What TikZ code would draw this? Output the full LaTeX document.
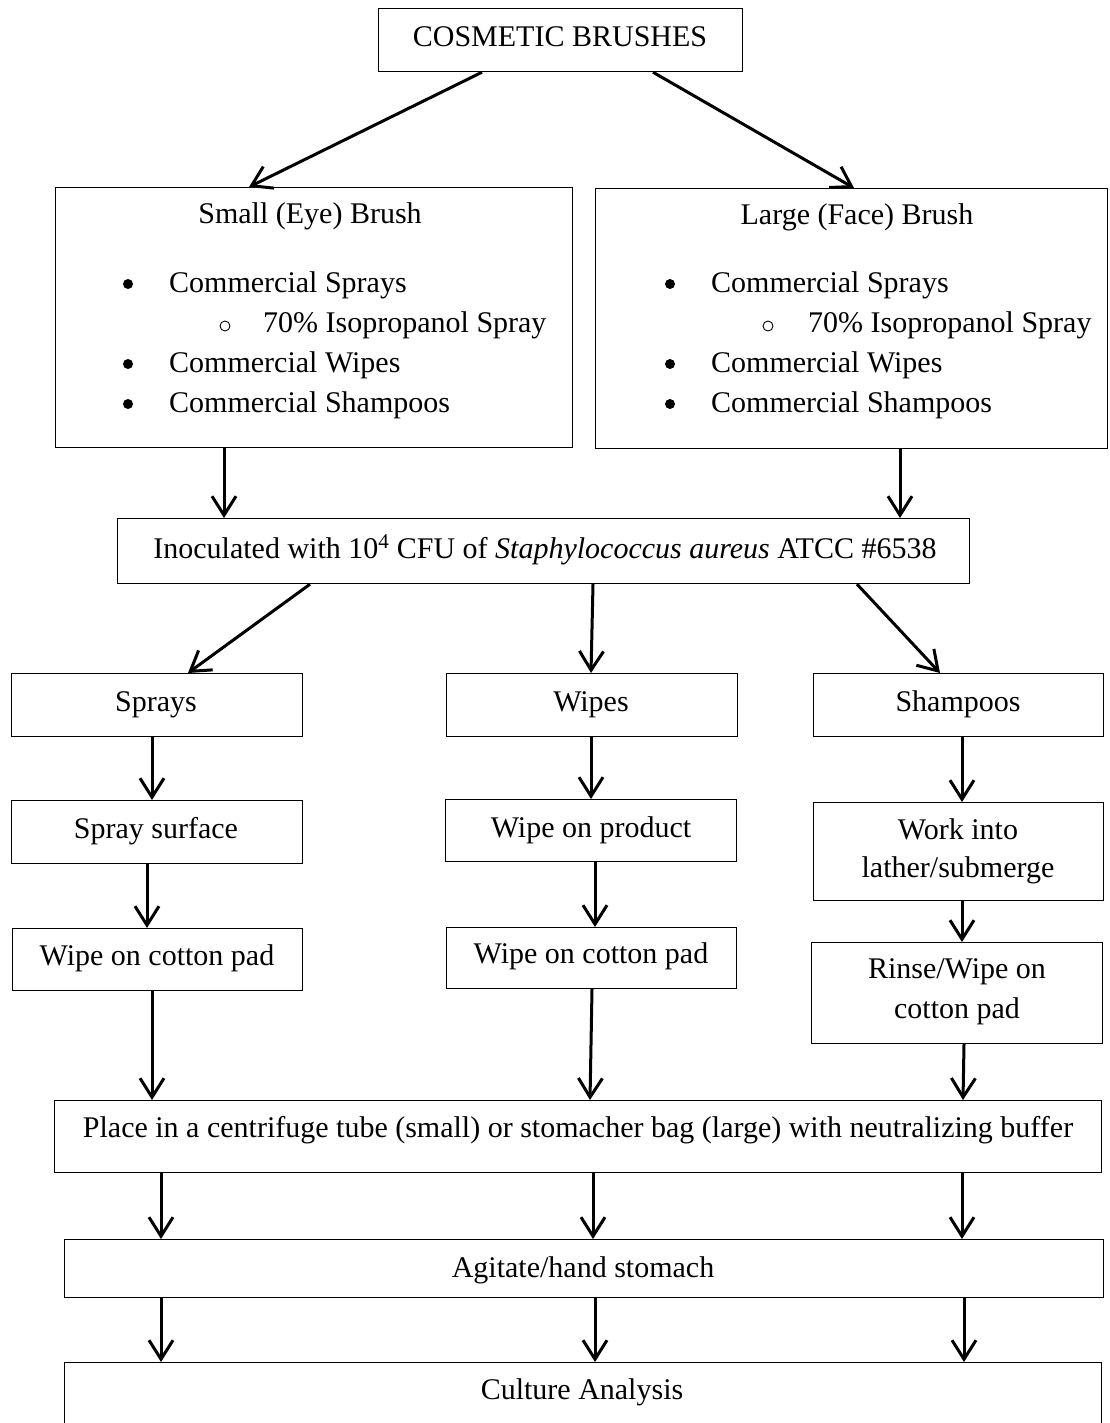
\documentclass[tikz,border=0pt]{standalone}
\usepackage{fontspec}
\setmainfont{Liberation Serif}
\usetikzlibrary{arrows.meta}
\newcommand\mkbox[5]{\node[box,minimum width={(#4-#2)*1pt},minimum height={(#5-#3)*1pt}] (#1) at (#2,#3) {};}
\begin{document}
\begin{tikzpicture}[x=1pt,y=-1pt,
  box/.style={draw, line width=1.2pt, inner sep=0pt, anchor=north west},
  txt/.style={inner sep=0pt, anchor=base, font=\fontsize{30}{36}\selectfont},
  ltxt/.style={txt, anchor=base west},
  dotbullet/.style={circle, fill, inner sep=0pt, minimum size=10pt},
  ringbullet/.style={circle, draw, line width=0.9pt, inner sep=0pt, minimum size=10pt},
  arr/.style={line width=3pt, -{Straight Barb[length=19pt,width=24pt,line width=3pt]}}]
\useasboundingbox (0,0) rectangle (1109,1423);
% boxes
\mkbox{top}{378}{8}{742}{71}
\mkbox{small}{55}{187}{572}{447}
\mkbox{large}{595}{188}{1107}{448}
\mkbox{inoc}{117}{518}{969}{583}
\mkbox{sprays}{11}{673}{302}{736}
\mkbox{wipes}{446}{673}{737}{736}
\mkbox{shampoos}{813}{673}{1103}{736}
\mkbox{spraysurf}{11}{800}{302}{863}
\mkbox{product}{445}{799}{736}{861}
\mkbox{workinto}{813}{802}{1103}{900}
\mkbox{cottonA}{12}{928}{302}{990}
\mkbox{cottonB}{446}{927}{736}{988}
\mkbox{rinse}{811}{942}{1102}{1043}
\mkbox{place}{54}{1100}{1101}{1172}
\mkbox{agitate}{64}{1239}{1103}{1297}
\mkbox{culture}{64}{1362}{1101}{1430}
% texts
\node[txt] (ttop) at (560,47) {COSMETIC BRUSHES};
\node[txt] (tsmall) at (310,224) {Small (Eye) Brush};
\node[txt] (tlarge) at (857,225) {Large (Face) Brush};
\foreach \bx/\tx/\cx/\sx/\nm in {128/169/225/263/s, 670/711/768/808/l}{
  \node[dotbullet] (\nm b1) at (\bx,284) {};
  \node[ltxt] (\nm t1) at (\tx,292) {Commercial Sprays};
  \node[ringbullet] (\nm c1) at (\cx,326) {};
  \node[ltxt] (\nm t2) at (\sx,332) {70\% Isopropanol Spray};
  \node[dotbullet] (\nm b2) at (\bx,364) {};
  \node[ltxt] (\nm t3) at (\tx,372) {Commercial Wipes};
  \node[dotbullet] (\nm b3) at (\bx,404) {};
  \node[ltxt] (\nm t4) at (\tx,412) {Commercial Shampoos};
}
\node[txt] (tinoc) at (545,558) {Inoculated with 10\textsuperscript{4} CFU of \textit{Staphylococcus aureus} ATCC \#6538};
\node[txt] (tsprays) at (156,711) {Sprays};
\node[txt] (twipes) at (591,711) {Wipes};
\node[txt] (tshampoos) at (958,711) {Shampoos};
\node[txt] (tspraysurf) at (156,838) {Spray surface};
\node[txt] (tproduct) at (591,837) {Wipe on product};
\node[txt] (twork1) at (958,839) {Work into};
\node[txt] (twork2) at (958,877) {lather/submerge};
\node[txt] (tcottonA) at (157,965) {Wipe on cotton pad};
\node[txt] (tcottonB) at (591,963) {Wipe on cotton pad};
\node[txt] (trinse1) at (957,978) {Rinse/Wipe on};
\node[txt] (trinse2) at (957,1018) {cotton pad};
\node[txt] (tplace) at (578,1137) {Place in a centrifuge tube (small) or stomacher bag (large) with neutralizing buffer};
\node[txt] (tagitate) at (583,1277) {Agitate/hand stomach};
\node[txt] (tculture) at (582,1399) {Culture Analysis};
% arrows
\draw[arr] (top.south -| 482,0) -- (small.north -| 249,0);
\draw[arr] (top.south -| 653,0) -- (large.north -| 854,0);
\draw[arr] (small.south -| 224,0) -- (inoc.north -| 224,0);
\draw[arr] (large.south -| 900,0) -- (inoc.north -| 900,0);
\draw[arr] (inoc.south -| 310,0) -- (sprays.north -| 188,0);
\draw[arr] (inoc.south -| 593,0) -- (wipes.north -| 591,0);
\draw[arr] (inoc.south -| 857,0) -- (shampoos.north -| 940,0);
\draw[arr] (sprays.south -| 152,0) -- (spraysurf.north -| 152,0);
\draw[arr] (spraysurf.south -| 147,0) -- (cottonA.north -| 147,0);
\draw[arr] (cottonA.south -| 152,0) -- (place.north -| 152,0);
\draw[arr] (wipes.south -| 591,0) -- (product.north -| 591,0);
\draw[arr] (product.south -| 595,0) -- (cottonB.north -| 595,0);
\draw[arr] (cottonB.south -| 592,0) -- (place.north -| 590,0);
\draw[arr] (shampoos.south -| 962,0) -- (workinto.north -| 962,0);
\draw[arr] (workinto.south -| 962,0) -- (rinse.north -| 962,0);
\draw[arr] (rinse.south -| 964,0) -- (place.north -| 963,0);
\foreach \xa/\xb in {161/161, 593/593, 962/962}{
  \draw[arr] (place.south -| \xa,0) -- (agitate.north -| \xb,0);
}
\foreach \xa/\xb in {161/161, 595/595, 964/964}{
  \draw[arr] (agitate.south -| \xa,0) -- (culture.north -| \xb,0);
}
\end{tikzpicture}
\end{document}
